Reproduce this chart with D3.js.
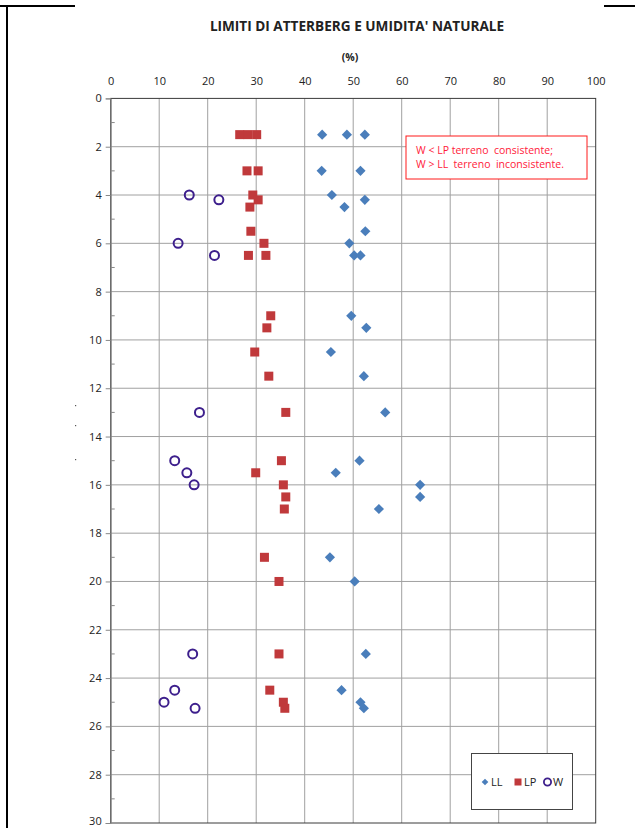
<!DOCTYPE html>
<html>
<head>
<meta charset="utf-8">
<script src="https://cdn.jsdelivr.net/npm/d3@7"></script>
<style>
  html, body { margin: 0; padding: 0; background: #fff; }
  svg { display: block; }
  text { font-family: "Open Sans", "Liberation Sans", sans-serif; }
</style>
</head>
<body>
<svg id="chart" width="635" height="828"></svg>
<script>
// Depth of each sample (m) and the measured values (%)
const llDepth = [1.5, 1.5, 1.5, 3.0, 3.0, 4.0, 4.2, 4.5, 5.5, 6.0, 6.5, 6.5, 9.0, 9.5, 10.5, 11.5, 13.0, 15.0, 15.5, 16.0, 16.5, 17.0, 19.0, 20.0, 23.0, 24.5, 25.0, 25.25];
const llValue = [43.6, 48.7, 52.4, 43.5, 51.5, 45.6, 52.4, 48.2, 52.5, 49.2, 50.2, 51.5, 49.6, 52.7, 45.4, 52.2, 56.6, 51.3, 46.4, 63.8, 63.8, 55.3, 45.2, 50.3, 52.6, 47.6, 51.5, 52.2];

const lpDepth = [1.5, 1.5, 1.5, 3.0, 3.0, 4.0, 4.2, 4.5, 5.5, 6.0, 6.5, 6.5, 9.0, 9.5, 10.5, 11.5, 13.0, 15.0, 15.5, 16.0, 16.5, 17.0, 19.0, 20.0, 23.0, 24.5, 25.0, 25.25];
const lpValue = [26.6, 28.3, 30.1, 28.1, 30.4, 29.3, 30.4, 28.7, 28.9, 31.6, 28.4, 32.0, 33.0, 32.2, 29.7, 32.6, 36.1, 35.2, 29.9, 35.6, 36.1, 35.8, 31.7, 34.7, 34.7, 32.8, 35.6, 35.9];

const wDepth = [4.0, 4.2, 6.0, 6.5, 13.0, 15.0, 15.5, 16.0, 23.0, 24.5, 25.0, 25.25];
const wValue = [16.2, 22.3, 13.9, 21.4, 18.3, 13.2, 15.7, 17.2, 16.9, 13.2, 11.0, 17.4];

const xTicks = [0, 10, 20, 30, 40, 50, 60, 70, 80, 90, 100];
const yTicks = [0, 2, 4, 6, 8, 10, 12, 14, 16, 18, 20, 22, 24, 26, 28, 30];

const title = "LIMITI DI ATTERBERG  E UMIDITA' NATURALE";
const unitLabel = "(%)";
const noteLines = ["W < LP terreno  consistente;", "W > LL  terreno  inconsistente."];
const legendNames = ["LL", "LP", "W"];

const colors = { LL: "#4a7ebb", LP: "#c0393b", W: "#3d1f8c" };

const svg = d3.select("#chart");

// Page frame lines of the document the chart sits in
svg.append("rect").attr("x", 6).attr("y", 5).attr("width", 2).attr("height", 823).attr("fill", "#000");
svg.append("rect").attr("x", 0).attr("y", 5).attr("width", 75).attr("height", 2).attr("fill", "#000");
svg.append("rect").attr("x", 604).attr("y", 5).attr("width", 31).attr("height", 2).attr("fill", "#000");
[405, 425, 459].forEach(yy => svg.append("rect").attr("x", 75).attr("y", yy).attr("width", 1.2).attr("height", 1.2).attr("fill", "#555"));

const x = d3.scaleLinear().domain([0, 100]).range([110.7, 595.7]);
const y = d3.scaleLinear().domain([0, 30]).range([98.4, 823]);

// Title and unit label
svg.append("text").attr("x", 357).attr("y", 31).attr("text-anchor", "middle")
  .attr("font-size", 13.6).attr("font-weight", "bold").attr("fill", "#222").text(title);
svg.append("text").attr("x", 350).attr("y", 61).attr("text-anchor", "middle")
  .attr("font-size", 10.5).attr("font-weight", "bold").attr("fill", "#222").text(unitLabel);

// Gridlines
const grid = svg.append("g");
grid.selectAll("line.v").data(xTicks.slice(1, -1)).join("line")
  .attr("x1", d => x(d)).attr("x2", d => x(d)).attr("y1", y(0)).attr("y2", y(30))
  .attr("stroke", "#a0a0a0").attr("stroke-width", 1);
grid.selectAll("line.h").data(yTicks.slice(1, -1)).join("line")
  .attr("x1", x(0)).attr("x2", x(100)).attr("y1", d => y(d)).attr("y2", d => y(d))
  .attr("stroke", "#a0a0a0").attr("stroke-width", 1);

// Plot frame
svg.append("rect").attr("x", x(0)).attr("y", y(0)).attr("width", x(100) - x(0)).attr("height", y(30) - y(0))
  .attr("fill", "none").attr("stroke", "#3a3a3a").attr("stroke-width", 1);

// Top axis (values)
const xAxis = d3.axisTop(x).tickValues(xTicks).tickSize(0).tickPadding(0);
const gx = svg.append("g").attr("transform", `translate(0,${y(0) - 13})`).call(xAxis);
gx.select(".domain").remove();
gx.selectAll("text").attr("font-size", 11).attr("fill", "#222").attr("font-family", "'Open Sans', sans-serif");

// Left axis (depth)
const yAxis = d3.axisLeft(y).tickValues(yTicks).tickSize(5).tickPadding(4);
const gy = svg.append("g").attr("transform", `translate(${x(0)},0)`).call(yAxis);
gy.select(".domain").attr("stroke", "#888");
gy.selectAll(".tick line").attr("stroke", "#888");
gy.selectAll("text").attr("font-size", 11).attr("fill", "#222").attr("font-family", "'Open Sans', sans-serif");
// keep the bottom label inside the page edge
gy.selectAll(".tick text").filter(d => d === 30).attr("dy", "0.1em");
// Minor ticks at odd depths
const minor = d3.range(1, 30, 2);
svg.append("g").selectAll("line").data(minor).join("line")
  .attr("x1", x(0)).attr("x2", x(0) + 4).attr("y1", d => y(d)).attr("y2", d => y(d))
  .attr("stroke", "#888");

// Markers
const pts = svg.append("g");
pts.selectAll("path.ll").data(d3.zip(llValue, llDepth)).join("path")
  .attr("d", d3.symbol().type(d3.symbolSquare).size(52)())
  .attr("transform", d => `translate(${x(d[0])},${y(d[1])}) rotate(45)`)
  .attr("fill", colors.LL);
pts.selectAll("rect.lp").data(d3.zip(lpValue, lpDepth)).join("rect")
  .attr("x", d => x(d[0]) - 4.5).attr("y", d => y(d[1]) - 4.5)
  .attr("width", 9).attr("height", 9).attr("fill", colors.LP);
pts.selectAll("circle.w").data(d3.zip(wValue, wDepth)).join("circle")
  .attr("cx", d => x(d[0])).attr("cy", d => y(d[1])).attr("r", 4.5)
  .attr("fill", "none").attr("stroke", colors.W).attr("stroke-width", 2);

// Note box
const note = svg.append("g");
note.append("rect").attr("x", 406).attr("y", 136).attr("width", 181).attr("height", 43)
  .attr("fill", "#fff").attr("stroke", "#ff1a1a").attr("stroke-width", 1);
note.selectAll("text").data(noteLines).join("text")
  .attr("x", 416).attr("y", (d, i) => 154 + i * 14)
  .attr("font-size", 10.5).attr("fill", "#ff1a3a").attr("xml:space", "preserve").style("white-space", "pre")
  .text(d => d);

// Legend
const lg = svg.append("g");
lg.append("rect").attr("x", 471.5).attr("y", 753.5).attr("width", 101).attr("height", 56)
  .attr("fill", "#fff").attr("stroke", "#444").attr("stroke-width", 1);
const ly = 782;
lg.append("path").attr("d", d3.symbol().type(d3.symbolSquare).size(22)())
  .attr("transform", `translate(485,${ly}) rotate(45)`).attr("fill", colors.LL);
lg.append("rect").attr("x", 514.5).attr("y", ly - 3.5).attr("width", 7).attr("height", 7).attr("fill", colors.LP);
lg.append("circle").attr("cx", 547.5).attr("cy", ly).attr("r", 3.6)
  .attr("fill", "none").attr("stroke", colors.W).attr("stroke-width", 1.8);
const legendX = [491, 524, 553];
lg.selectAll("text").data(legendNames).join("text")
  .attr("x", (d, i) => legendX[i]).attr("y", ly + 4)
  .attr("font-size", 11).attr("fill", "#222").text(d => d);
</script>
</body>
</html>
